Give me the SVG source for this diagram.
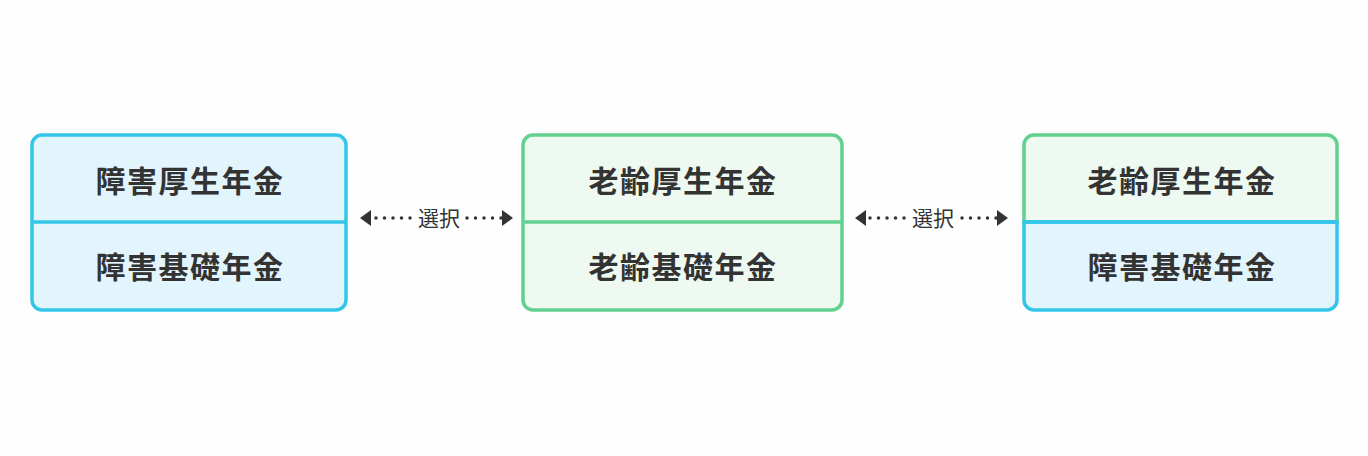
<svg xmlns="http://www.w3.org/2000/svg" width="1368" height="456" viewBox="0 0 1368 456">
<style>
.lbl{font-family:"Noto Sans CJK JP","Noto Sans CJK SC",sans-serif;font-weight:700;font-size:30px;fill:#333;text-anchor:middle;dominant-baseline:central;letter-spacing:1.5px}
.sel{font-family:"Noto Sans CJK JP","Noto Sans CJK SC",sans-serif;font-weight:400;font-size:21px;fill:#333;text-anchor:middle;dominant-baseline:central}
.blue{stroke:#33c6ea;stroke-width:3.5;fill:#e3f5fc}
.green{stroke:#62d18f;stroke-width:3.5;fill:#eef9f1}
.conn{stroke:#333;stroke-width:3.5;stroke-linecap:round;stroke-dasharray:0.01 8.49;fill:none}
</style>
<rect width="1368" height="456" fill="#fefefe"/>
<g id="node1">
<rect class="blue" x="32" y="135" width="314" height="175" rx="10"/>
<line x1="32" y1="222" x2="346" y2="222" stroke="#33c6ea" stroke-width="3.5"/>
<text class="lbl" x="190" y="179">障害厚生年金</text>
<text class="lbl" x="190" y="265">障害基礎年金</text>
</g>
<g id="node2">
<rect class="green" x="523" y="135" width="319" height="175" rx="10"/>
<line x1="523" y1="222" x2="842" y2="222" stroke="#62d18f" stroke-width="3.5"/>
<text class="lbl" x="683" y="179">老齢厚生年金</text>
<text class="lbl" x="683" y="265">老齢基礎年金</text>
</g>
<g id="node3">
<path class="green" d="M1024,222 V145 A10,10 0 0 1 1034,135 H1327 A10,10 0 0 1 1337,145 V222 Z"/>
<path class="blue" d="M1024,222 V300 A10,10 0 0 0 1034,310 H1327 A10,10 0 0 0 1337,300 V222 Z"/>
<line x1="1024" y1="222" x2="1337" y2="222" stroke="#33c6ea" stroke-width="3.5"/>
<text class="lbl" x="1182" y="179">老齢厚生年金</text>
<text class="lbl" x="1182" y="265">障害基礎年金</text>
</g>
<g id="connectors">
<line class="conn" x1="376" y1="218" x2="410.1" y2="218"/>
<line class="conn" x1="467" y1="218" x2="501.1" y2="218"/>
<path d="M371,210 L360,218 L371,226 Z" fill="#333"/>
<path d="M502,210 L513,218 L502,226 Z" fill="#333"/>
<text class="sel" x="439" y="217">選択</text>
<line class="conn" x1="870" y1="218" x2="904.1" y2="218"/>
<line class="conn" x1="962" y1="218" x2="996.1" y2="218"/>
<path d="M866,210 L855,218 L866,226 Z" fill="#333"/>
<path d="M997,210 L1008,218 L997,226 Z" fill="#333"/>
<text class="sel" x="933" y="217">選択</text>
</g>
</svg>
